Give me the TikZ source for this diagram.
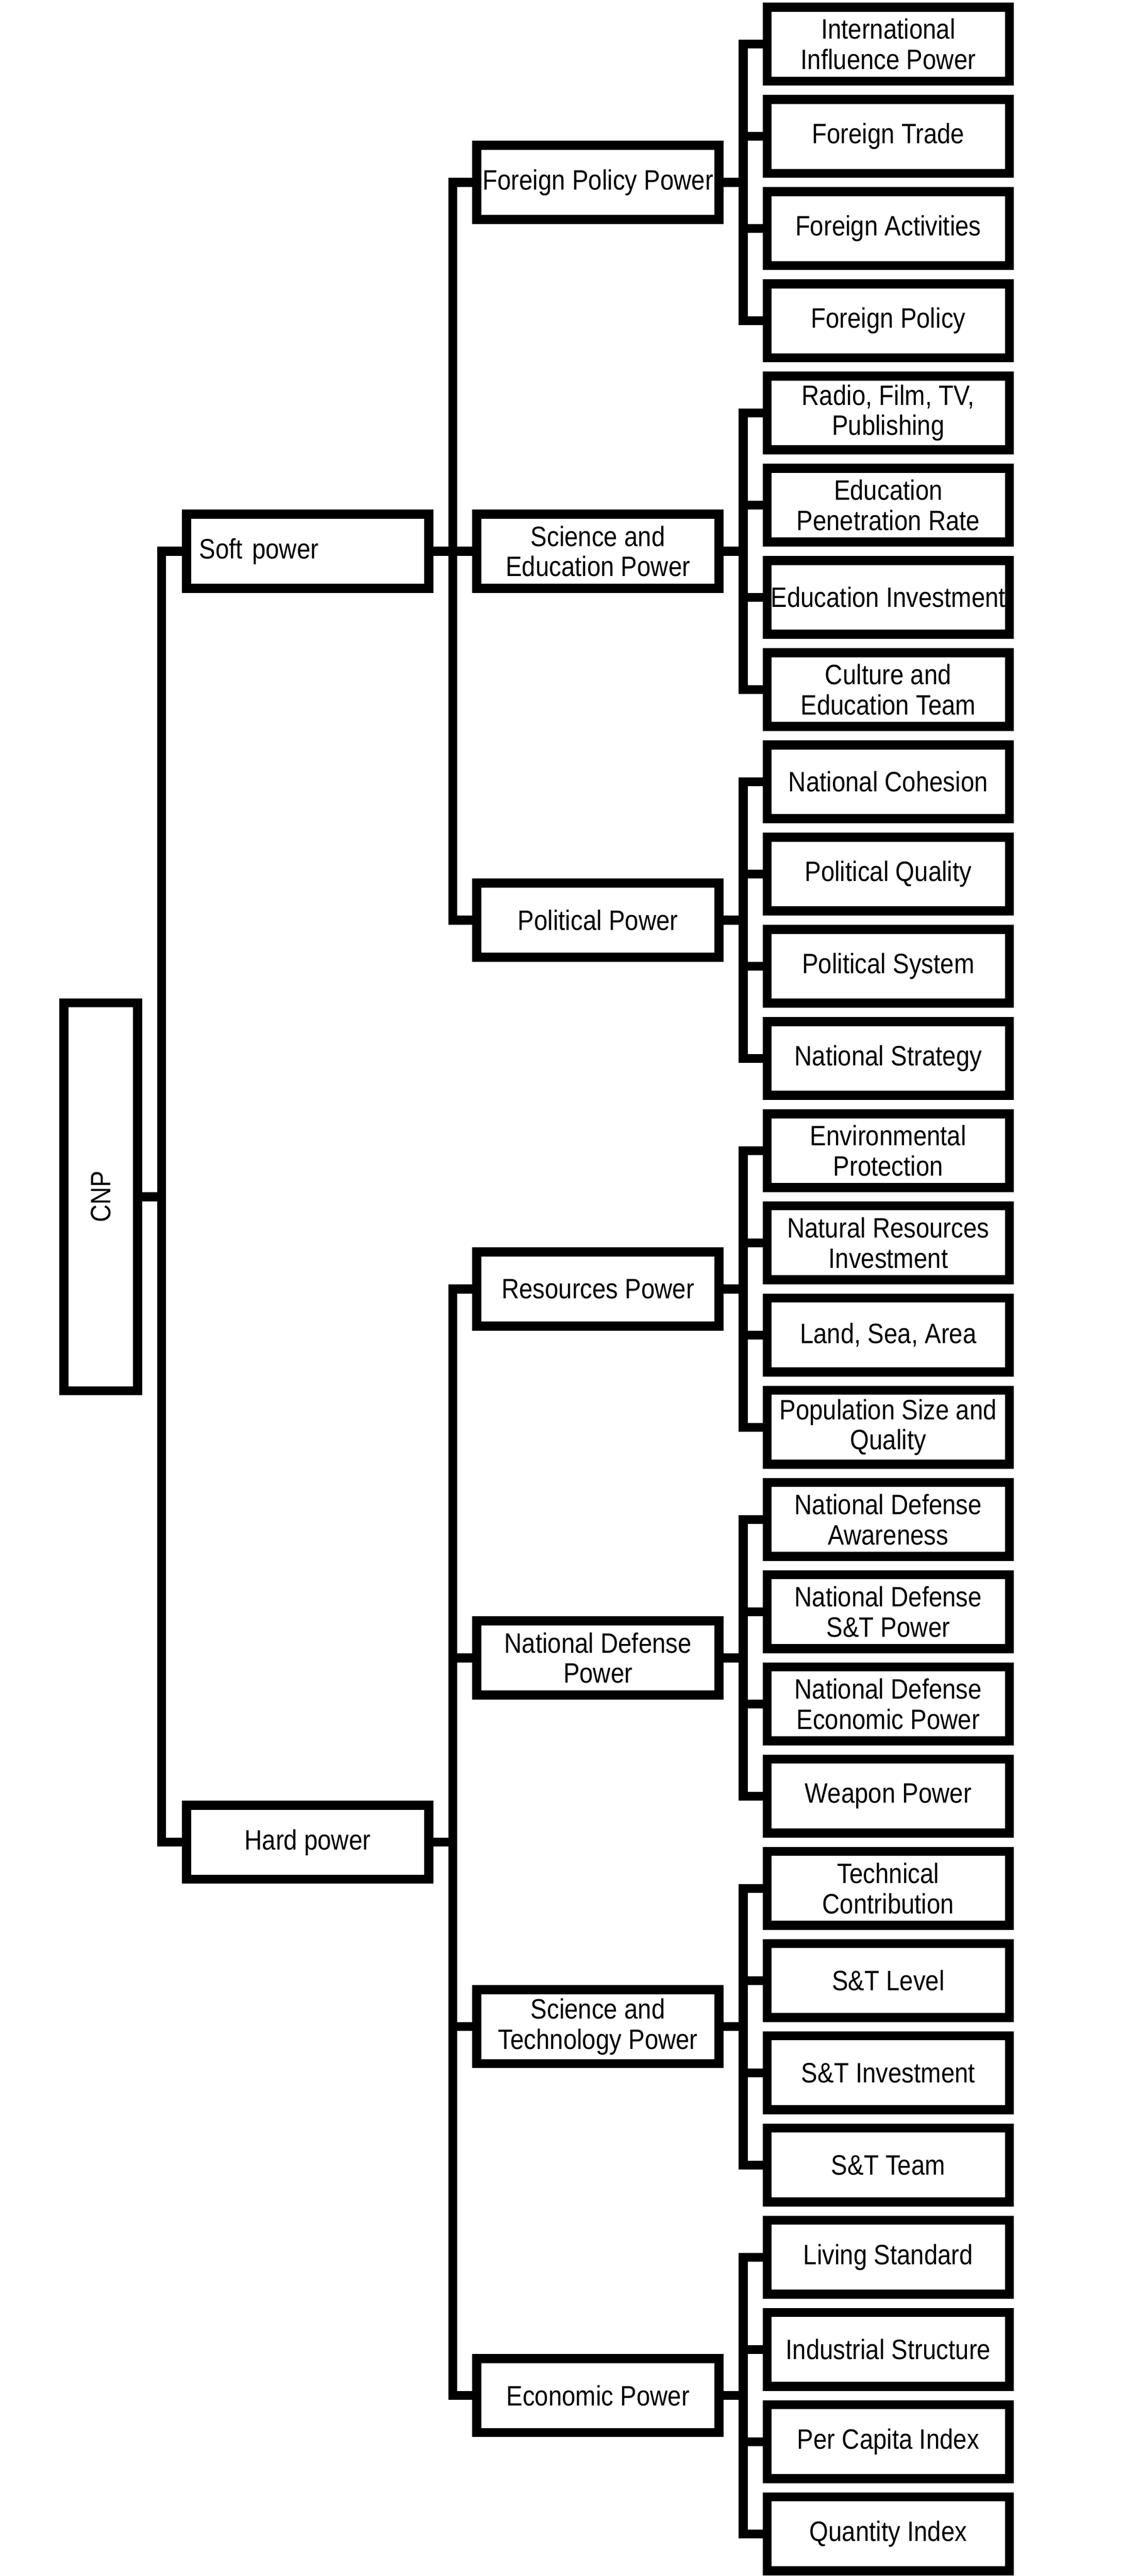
\documentclass[tikz,border=0pt]{standalone}
\usepackage{fontspec}
\setmainfont{Liberation Sans}[FakeStretch=0.87]
\usetikzlibrary{positioning,calc}

\begin{document}
\begin{tikzpicture}[
    node distance=0.188cm,
    box/.style={rectangle, draw=black, line width=0.185cm, outer sep=0.0925cm,
                minimum width=4.945cm, minimum height=1.51cm, inner xsep=0pt,
                inner ysep=2pt, align=center, font=\fontsize{16.3}{17.6}\selectfont},
    root/.style={box, minimum width=1.505cm, minimum height=7.925cm},
    link/.style={line width=0.18cm}
]
\useasboundingbox (0,0) rectangle (22.88,-52.60);

% Indicators
\node[box] (IIP) at (18.13,-0.90) {International\\Influence Power};
\node[box, below=of IIP] (FT) {Foreign Trade};
\node[box, below=of FT] (FA) {Foreign Activities};
\node[box, below=of FA] (FPo) {Foreign Policy};
\node[box, below=of FPo] (RFT) {Radio, Film, TV,\\Publishing};
\node[box, below=of RFT] (EPR) {Education\\Penetration Rate};
\node[box, below=of EPR] (EI) {Education Investment};
\node[box, below=of EI] (CET) {Culture and\\Education Team};
\node[box, below=of CET] (NC) {National Cohesion};
\node[box, below=of NC] (PQ) {Political Quality};
\node[box, below=of PQ] (PS) {Political System};
\node[box, below=of PS] (NS) {National Strategy};
\node[box, below=of NS] (EnP) {Environmental\\Protection};
\node[box, below=of EnP] (NRI) {Natural Resources\\Investment};
\node[box, below=of NRI] (LSA) {Land, Sea, Area};
\node[box, below=of LSA] (PSQ) {Population Size and\\Quality};
\node[box, below=of PSQ] (NDA) {National Defense\\Awareness};
\node[box, below=of NDA] (NDST) {National Defense\\S\&T Power};
\node[box, below=of NDST] (NDEP) {National Defense\\Economic Power};
\node[box, below=of NDEP] (WP) {Weapon Power};
\node[box, below=of WP] (TC) {Technical\\Contribution};
\node[box, below=of TC] (STL) {S\&T Level};
\node[box, below=of STL] (STI) {S\&T Investment};
\node[box, below=of STI] (STT) {S\&T Team};
\node[box, below=of STT] (LS) {Living Standard};
\node[box, below=of LS] (IS) {Industrial Structure};
\node[box, below=of IS] (PCI) {Per Capita Index};
\node[box, below=of PCI] (QI) {Quantity Index};

% Powers
\node[box] (FPP) at ($(IIP)!0.5!(FPo)-(5.925,0)$) {Foreign Policy Power};
\node[box] (SEP) at ($(RFT)!0.5!(CET)-(5.925,0)$) {Science and\\Education Power};
\node[box] (PP) at ($(NC)!0.5!(NS)-(5.925,0)$) {Political Power};
\node[box] (RP) at ($(EnP)!0.5!(PSQ)-(5.925,0)$) {Resources Power};
\node[box] (NDP) at ($(NDA)!0.5!(WP)-(5.925,0)$) {National Defense\\Power};
\node[box] (STP) at ($(TC)!0.5!(STT)-(5.925,0)$) {Science and\\Technology Power};
\node[box] (EcP) at ($(LS)!0.5!(QI)-(5.925,0)$) {Economic Power};

% Soft / hard
\node[box, text width=4.42cm, align=left] (Soft) at ($(SEP)-(5.925,0)$) {Soft power};
\node[box] (Hard) at ($(NDP)!0.5!(STP)-(5.925,0)$) {Hard power};
\node[root] (CNP) at ($(Soft)!0.5!(Hard)-(4.225,0)$) {\rotatebox{90}{CNP}};

% Lines
\draw[link] (CNP.east) -- ++(0.4,0) |- (Soft.west);
\draw[link] (CNP.east) -- ++(0.4,0) |- (Hard.west);

\draw[link] (Soft.east) -- ++(0.4,0) |- (FPP.west);
\draw[link] (Soft.east) -- ++(0.4,0) |- (SEP.west);
\draw[link] (Soft.east) -- ++(0.4,0) |- (PP.west);
\draw[link] (Hard.east) -- ++(0.4,0) |- (RP.west);
\draw[link] (Hard.east) -- ++(0.4,0) |- (NDP.west);
\draw[link] (Hard.east) -- ++(0.4,0) |- (STP.west);
\draw[link] (Hard.east) -- ++(0.4,0) |- (EcP.west);

\draw[link] (FPP.east) -- ++(0.4,0) |- (IIP.west);
\draw[link] (FPP.east) -- ++(0.4,0) |- (FT.west);
\draw[link] (FPP.east) -- ++(0.4,0) |- (FA.west);
\draw[link] (FPP.east) -- ++(0.4,0) |- (FPo.west);
\draw[link] (SEP.east) -- ++(0.4,0) |- (RFT.west);
\draw[link] (SEP.east) -- ++(0.4,0) |- (EPR.west);
\draw[link] (SEP.east) -- ++(0.4,0) |- (EI.west);
\draw[link] (SEP.east) -- ++(0.4,0) |- (CET.west);
\draw[link] (PP.east) -- ++(0.4,0) |- (NC.west);
\draw[link] (PP.east) -- ++(0.4,0) |- (PQ.west);
\draw[link] (PP.east) -- ++(0.4,0) |- (PS.west);
\draw[link] (PP.east) -- ++(0.4,0) |- (NS.west);
\draw[link] (RP.east) -- ++(0.4,0) |- (EnP.west);
\draw[link] (RP.east) -- ++(0.4,0) |- (NRI.west);
\draw[link] (RP.east) -- ++(0.4,0) |- (LSA.west);
\draw[link] (RP.east) -- ++(0.4,0) |- (PSQ.west);
\draw[link] (NDP.east) -- ++(0.4,0) |- (NDA.west);
\draw[link] (NDP.east) -- ++(0.4,0) |- (NDST.west);
\draw[link] (NDP.east) -- ++(0.4,0) |- (NDEP.west);
\draw[link] (NDP.east) -- ++(0.4,0) |- (WP.west);
\draw[link] (STP.east) -- ++(0.4,0) |- (TC.west);
\draw[link] (STP.east) -- ++(0.4,0) |- (STL.west);
\draw[link] (STP.east) -- ++(0.4,0) |- (STI.west);
\draw[link] (STP.east) -- ++(0.4,0) |- (STT.west);
\draw[link] (EcP.east) -- ++(0.4,0) |- (LS.west);
\draw[link] (EcP.east) -- ++(0.4,0) |- (IS.west);
\draw[link] (EcP.east) -- ++(0.4,0) |- (PCI.west);
\draw[link] (EcP.east) -- ++(0.4,0) |- (QI.west);

\end{tikzpicture}
\end{document}
